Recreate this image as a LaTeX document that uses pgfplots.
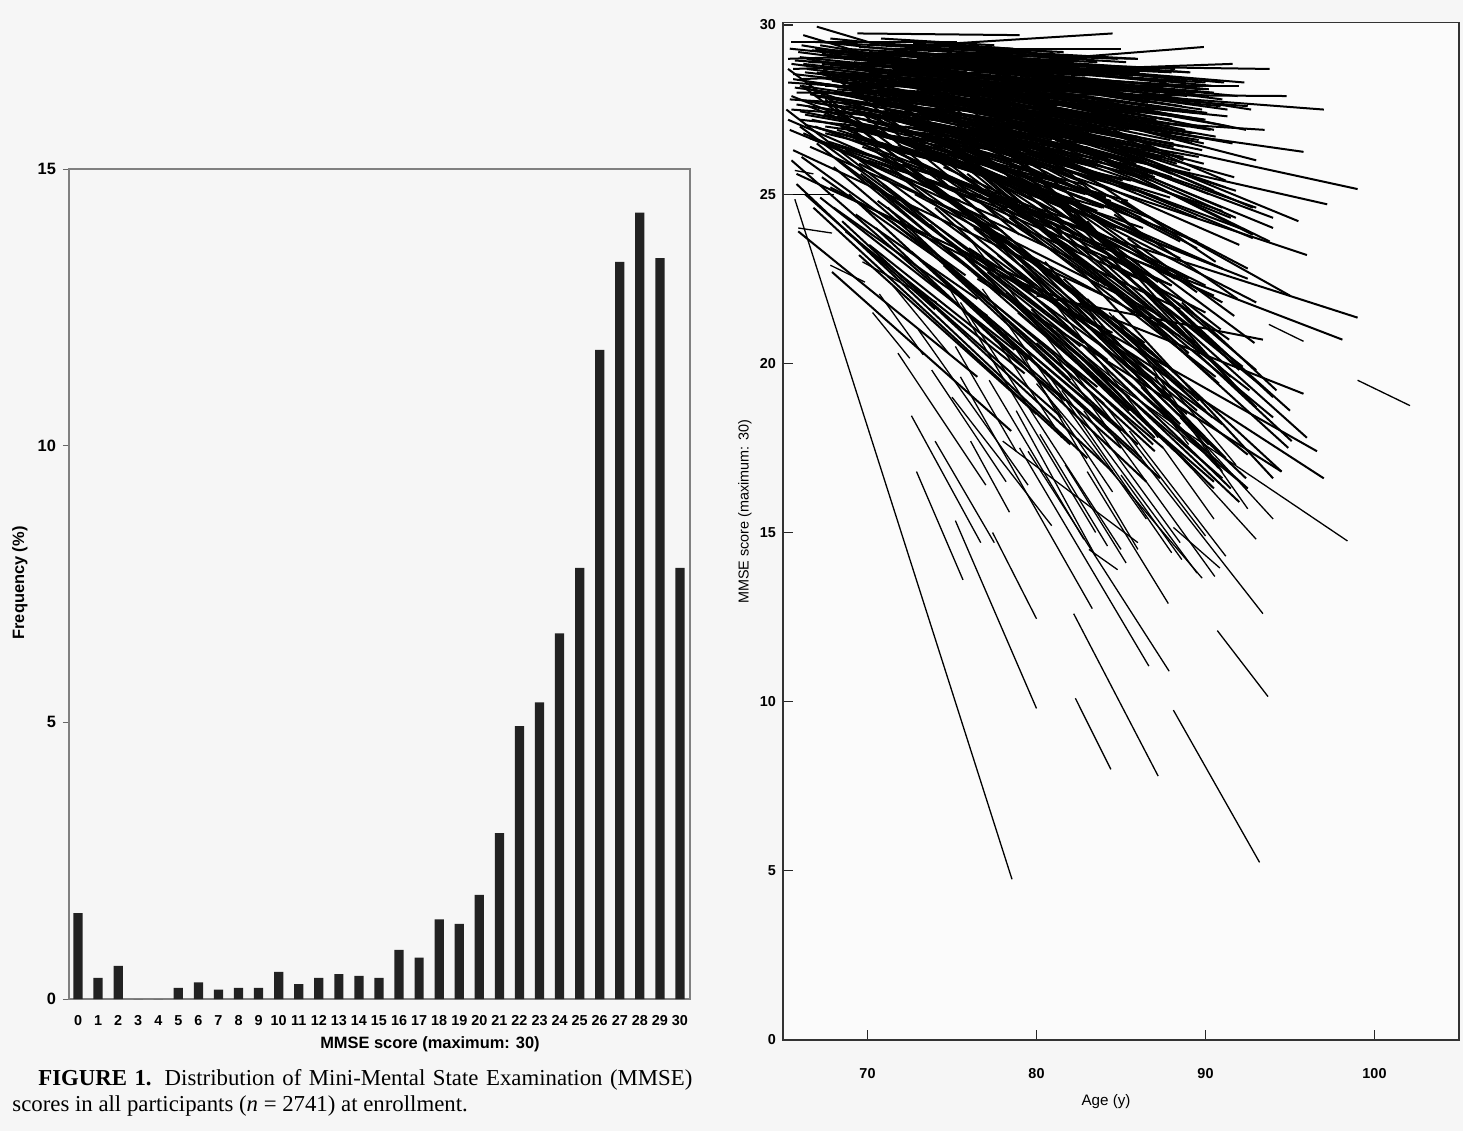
\documentclass[border=0pt]{standalone}
\usepackage{fontspec}
\setmainfont{Liberation Serif}
\setsansfont{Liberation Sans}
\usepackage{pgfplots}
\usepackage{pgfplotstable}
\pgfplotsset{compat=1.18}
\definecolor{bg}{HTML}{F6F6F6}
\definecolor{barc}{HTML}{222222}

\pgfplotstableread{
s f
0 1.55
1 0.38
2 0.60
3 0
4 0
5 0.20
6 0.30
7 0.17
8 0.20
9 0.20
10 0.49
11 0.27
12 0.38
13 0.45
14 0.42
15 0.38
16 0.89
17 0.75
18 1.44
19 1.36
20 1.88
21 3.00
22 4.93
23 5.36
24 6.61
25 7.79
26 11.73
27 13.32
28 14.21
29 13.39
30 7.79
}\freq

% dense trajectories; each row: age1 score1 age2 score2
\pgfplotstableread{
a b c d
65.5 29.5 75.3 29.5
69.4 29.75 79.0 29.7
73.3 29.4 84.5 29.75
76.0 28.8 89.9 29.35
67.0 29.95 70.7 29.4
66.2 29.7 71.5 28.9
65.3 29.0 78.5 29.2
65.6 28.7 83.0 29.0
66.0 28.4 91.6 28.85
66.5 28.9 93.8 28.7
67.5 28.2 92.0 28.2
65.8 28.0 94.8 27.9
68.0 28.6 97.0 27.5
65.4 27.8 93.5 26.9
66.8 28.3 95.8 26.25
68.5 29.2 86.0 29.0
70.0 29.0 88.0 28.6
71.0 29.3 85.0 29.3
72.5 28.9 90.0 28.3
65.9 29.2 77.0 28.5
67.2 29.4 82.0 28.2
66.3 28.6 80.5 27.8
68.8 28.8 84.5 27.9
70.5 28.4 87.5 27.5
69.2 27.9 86.0 27.2
65.5 27.5 82.0 26.9
66.9 27.7 84.0 26.6
71.5 28.1 89.0 27.0
73.0 28.6 86.5 28.0
74.5 29.1 88.5 28.4
67.8 29.6 79.5 29.0
72.0 29.55 81.0 29.2
75.5 28.3 92.5 27.6
76.5 28.7 91.0 27.8
78.0 28.9 89.0 28.6
68.2 28.1 78.5 27.6
69.8 28.7 83.5 28.3
65.7 28.95 73.5 28.7
66.7 29.25 74.8 29.0
70.8 29.6 77.5 29.4
72.8 28.2 81.5 27.9
74.0 27.9 84.0 27.3
77.0 28.2 87.0 27.6
79.0 28.5 90.5 28.0
80.5 28.1 88.5 27.8
65.3 28.3 74.0 28.0
69.0 28.3 76.5 28.0
71.2 27.8 80.0 27.2
73.5 27.5 82.5 26.9
75.0 27.6 86.0 26.7
66.0 27.2 79.0 26.5
67.5 27.0 77.5 26.3
70.2 27.3 83.0 26.1
78.5 27.9 88.0 27.2
81.5 27.8 90.0 27.2
82.5 28.4 89.5 28.2
76.8 29.2 84.8 29.0
74.2 28.5 80.2 28.3
69.5 29.35 75.0 29.2
72.2 27.0 79.5 26.5
70.0 28.3 99.0 25.15
68.0 28.0 97.2 24.7
66.0 28.2 96.0 23.2
70.0 26.0 99.0 21.35
72.0 25.7 98.1 20.7
78.0 22.6 95.8 19.1
80.0 22.0 93.4 20.7
76.0 23.4 97.0 16.6
75.0 23.5 96.6 17.4
76.5 22.5 94.5 16.8
65.5 27.9 90.0 23.0
66.5 27.6 92.5 22.5
65.3 27.2 88.0 22.3
67.0 28.6 91.0 24.5
68.5 28.9 93.0 24.6
69.0 27.5 89.5 23.6
70.5 28.0 92.0 24.0
71.0 27.2 91.0 22.8
72.0 28.4 94.0 24.3
73.0 27.8 92.8 23.7
74.0 28.6 95.5 24.2
66.2 26.8 86.5 22.4
67.5 26.5 88.5 21.6
68.8 26.9 90.5 22.0
70.3 26.6 88.0 22.3
65.6 26.3 84.0 22.0
69.5 25.9 87.0 21.5
71.5 26.3 90.0 21.5
73.5 26.8 93.0 21.8
75.0 27.2 92.0 23.5
76.5 27.6 94.0 24.0
78.0 27.0 91.5 24.3
79.5 27.4 92.8 24.6
80.5 26.8 91.8 24.3
74.5 25.8 89.0 22.5
77.0 25.5 90.0 22.3
65.8 25.6 80.0 22.3
67.8 25.2 84.5 20.9
72.8 25.0 88.5 20.8
78.5 25.2 91.0 21.8
81.0 25.8 92.5 22.8
82.0 26.5 91.0 24.6
83.5 27.0 91.2 25.4
84.0 26.0 92.8 23.8
66.9 27.0 76.5 25.2
68.2 27.3 79.2 25.3
69.9 27.0 82.5 24.4
71.8 26.9 84.7 24.0
73.2 27.2 86.2 24.3
74.8 26.6 87.0 23.6
76.2 26.2 88.5 23.1
77.8 26.5 89.5 23.4
79.2 26.0 88.5 23.6
75.8 28.0 88.0 25.6
77.2 27.9 90.5 25.1
79.8 28.3 89.2 26.5
81.8 27.5 88.7 26.0
70.8 27.6 80.3 25.8
65.4 26.9 75.5 24.8
66.6 26.4 78.0 23.9
72.5 26.0 82.8 23.7
85.0 24.8 95.0 22.0
86.0 25.5 93.8 23.6
65.5 26.0 85.0 17.5
66.0 27.0 88.0 19.0
67.0 26.5 85.5 19.0
65.8 25.3 83.0 17.2
68.0 25.8 87.5 17.5
69.0 26.2 91.0 18.2
70.0 25.4 90.5 16.5
71.0 25.9 92.5 17.3
72.0 24.8 91.0 16.6
73.0 25.6 89.5 18.6
74.0 24.6 92.5 16.3
75.0 25.2 90.0 18.6
66.8 24.6 82.0 17.6
68.5 24.2 84.5 16.8
70.5 24.0 86.5 16.5
67.5 27.8 83.5 21.3
69.2 27.6 86.0 20.5
70.8 28.2 89.0 20.3
72.3 27.5 90.8 19.4
73.8 27.9 93.0 19.8
75.5 26.8 91.5 19.6
77.0 26.9 94.0 19.0
78.5 26.3 92.0 19.8
80.0 25.3 95.0 18.6
81.5 24.6 93.0 18.7
83.0 24.2 92.0 19.2
76.0 24.4 88.5 18.2
77.5 23.8 90.2 17.6
79.0 23.4 91.2 17.2
80.5 23.0 89.7 17.9
82.5 22.8 94.0 16.6
74.5 22.9 86.0 17.6
73.2 23.5 84.0 18.8
71.5 22.8 81.5 18.4
69.5 23.2 80.0 18.5
67.9 22.7 78.5 18.0
65.9 23.9 76.5 19.6
66.3 25.0 74.0 21.6
68.9 25.0 79.5 20.1
71.2 24.6 82.0 19.5
73.7 24.1 85.5 18.6
75.7 23.2 87.0 17.8
78.2 22.1 88.2 17.4
79.7 21.6 90.5 16.3
81.2 21.0 92.0 15.9
82.8 20.5 91.5 16.3
84.5 21.4 94.5 16.8
85.5 22.5 96.0 17.8
86.5 21.5 94.0 18.4
70.0 27.5 79.0 23.8
71.7 28.0 80.8 24.0
73.4 28.3 82.3 24.5
75.2 27.9 84.0 24.1
77.3 27.6 86.5 23.7
66.4 28.1 76.0 24.5
67.4 28.7 77.2 25.0
68.6 27.1 78.0 23.6
69.7 28.5 81.5 23.8
65.3 28.7 74.5 25.3
65.2 27.5 73.0 24.5
74.6 26.3 85.2 22.0
76.7 25.7 87.8 21.2
78.7 24.6 89.0 20.3
80.8 24.2 90.8 19.9
83.8 23.2 93.4 19.3
66.1 29.4 72.3 28.9
66.4 29.0 70.9 28.6
66.8 28.75 76.2 28.2
67.1 28.45 73.8 27.9
67.3 29.15 75.9 28.6
67.6 28.9 80.4 28.1
67.9 28.35 78.8 27.4
68.1 29.45 76.6 29.0
68.3 28.0 75.3 27.2
68.6 28.55 81.2 27.6
68.9 29.05 79.6 28.7
69.1 27.75 77.4 26.8
69.3 28.25 82.6 27.1
69.6 28.85 80.9 28.3
69.9 27.55 78.7 26.4
70.1 29.2 83.8 28.8
70.4 28.65 79.2 28.0
70.6 28.1 84.4 26.9
70.9 27.45 81.7 26.1
71.1 28.9 82.9 28.5
71.4 28.5 80.6 27.7
71.6 27.95 83.1 26.8
71.9 29.4 80.3 29.1
72.1 28.7 85.6 27.9
72.4 27.65 80.9 26.6
72.6 28.35 87.1 27.2
72.9 29.0 83.4 28.6
73.1 27.4 84.6 26.1
73.4 28.8 86.2 28.2
73.6 28.05 82.1 27.2
73.9 29.25 85.3 28.9
74.1 27.7 86.8 26.4
74.4 28.4 83.0 27.9
74.6 27.2 85.9 25.9
74.9 28.95 87.7 28.3
75.1 28.15 84.2 27.4
75.4 27.5 88.3 26.2
75.6 28.6 85.1 28.0
75.9 29.1 83.6 28.9
76.1 27.85 86.9 26.9
76.4 28.35 90.1 27.4
76.6 27.3 87.4 26.0
76.9 28.75 86.0 28.2
77.1 27.95 89.3 26.8
77.4 28.5 84.7 28.0
77.6 27.55 88.7 26.4
77.9 29.0 86.4 28.7
78.1 28.2 91.4 27.0
78.4 27.2 87.6 26.1
78.6 28.65 88.9 27.9
78.9 27.75 86.3 27.0
79.1 28.85 92.3 28.3
79.4 28.05 88.2 27.3
79.6 27.35 89.8 26.3
79.9 28.45 87.3 28.0
80.2 27.6 90.6 26.7
80.6 28.75 91.1 28.3
81.0 28.0 89.4 27.4
81.3 27.1 88.1 26.4
81.7 28.35 92.7 27.5
82.1 27.55 90.3 26.9
82.8 28.05 88.6 27.6
83.2 27.25 91.6 26.5
65.6 28.55 71.8 28.2
65.7 28.15 76.9 27.4
65.9 27.8 73.2 27.1
66.0 27.45 78.6 26.2
66.2 28.85 81.4 28.0
66.3 27.05 75.7 25.9
66.5 28.3 85.2 26.9
66.6 26.65 77.8 25.0
66.8 29.5 78.1 29.2
66.9 27.9 87.3 26.1
67.1 26.95 80.7 25.1
67.2 28.6 88.4 27.3
67.4 27.35 79.1 25.9
67.6 29.05 90.2 28.1
67.7 26.55 82.4 24.2
67.9 27.75 85.0 25.9
68.0 28.2 79.9 27.4
68.2 26.9 81.1 24.9
68.4 27.55 86.6 25.5
68.5 29.3 82.2 28.9
68.7 26.3 78.3 24.6
68.8 27.95 89.6 26.1
69.0 28.7 80.1 28.2
69.2 26.75 83.9 24.6
69.4 27.25 79.5 25.9
69.5 28.4 91.3 27.3
69.7 26.4 80.8 24.3
69.8 29.15 86.7 28.7
70.0 27.8 82.4 26.6
70.2 26.85 85.4 24.8
70.3 28.6 90.9 27.6
70.5 27.35 78.9 26.3
70.7 26.2 83.2 23.9
70.8 29.45 81.6 29.2
71.0 27.95 88.1 26.4
71.2 26.7 80.2 25.1
71.3 28.25 86.1 27.1
71.5 27.2 84.0 25.4
71.7 29.1 79.2 28.8
71.8 26.45 86.3 24.0
72.0 27.6 81.3 26.5
72.2 28.85 89.4 28.0
72.3 26.9 84.1 24.9
72.5 27.95 78.5 27.3
72.7 29.45 78.6 29.3
72.8 26.3 82.7 24.4
73.0 27.15 87.9 24.9
73.2 28.6 80.4 28.1
73.3 26.65 85.4 24.4
73.5 28.15 90.6 26.6
73.7 27.0 80.9 25.9
73.8 29.1 82.5 28.8
74.0 26.45 83.6 24.5
74.2 27.55 88.0 25.7
74.3 28.75 91.9 27.9
74.5 26.85 81.4 25.7
74.7 27.9 84.9 26.8
74.8 29.35 79.7 29.2
75.0 26.6 86.7 24.3
75.2 28.4 89.9 27.2
75.3 27.0 82.3 25.8
75.5 29.0 88.4 28.4
75.7 26.3 84.0 24.6
75.8 27.7 91.7 25.5
76.0 28.9 82.1 28.6
76.3 26.8 87.2 24.9
76.5 27.95 85.5 26.9
76.8 26.5 83.0 25.3
77.0 29.25 85.9 29.0
77.3 27.25 88.0 25.5
77.5 28.4 92.4 26.9
77.8 26.75 85.7 25.2
78.0 27.5 84.4 26.6
78.3 28.8 90.4 28.2
78.5 26.5 89.5 24.3
78.8 27.95 86.1 27.1
79.0 27.1 91.8 25.1
79.3 28.45 85.0 28.0
79.5 26.75 86.8 25.4
79.8 27.7 93.0 26.0
80.1 26.3 88.4 24.6
80.4 28.2 86.6 27.7
80.7 27.0 91.2 25.2
81.1 26.6 87.0 25.5
81.5 27.85 90.5 26.9
82.0 26.85 89.1 25.7
82.4 28.25 87.9 27.9
82.9 26.4 90.2 25.0
83.5 27.6 89.7 27.0
68.3 26.0 80.5 21.5
69.6 25.6 82.8 20.6
70.9 25.3 84.2 20.1
72.1 25.9 86.4 20.6
73.4 25.4 87.8 19.9
74.7 24.9 86.9 20.3
75.9 25.6 89.4 20.6
77.2 24.9 88.1 20.9
78.4 24.3 90.6 19.6
79.6 24.9 91.4 20.7
80.9 23.7 92.6 19.2
82.2 24.4 90.9 21.0
67.2 24.9 78.7 20.4
68.7 23.9 79.3 19.7
70.1 23.5 81.7 18.9
71.4 24.2 83.6 19.3
72.6 23.3 85.0 18.0
73.9 22.7 84.4 18.3
75.1 22.2 86.2 17.2
76.4 21.6 87.3 16.6
77.7 23.2 86.5 19.4
79.1 22.9 88.9 18.5
80.3 21.8 90.3 17.2
81.6 22.5 89.6 18.9
83.0 21.9 90.4 18.4
84.2 23.0 92.2 19.9
85.4 23.7 91.7 21.4
86.7 22.9 92.9 20.6
69.1 26.7 77.6 24.0
70.4 26.3 80.1 23.0
71.6 25.7 79.8 22.8
72.9 26.4 82.4 23.3
74.2 25.6 83.7 22.4
75.4 26.1 85.8 22.7
76.6 25.0 84.1 22.3
77.9 25.7 87.2 22.4
79.3 25.4 86.1 22.9
80.6 25.1 88.2 22.5
81.9 24.8 89.5 22.1
83.1 25.5 90.6 23.0
84.6 24.4 91.9 21.9
66.1 26.1 75.8 22.6
67.3 25.5 74.7 22.9
68.0 24.6 77.1 21.4
69.3 24.4 76.5 21.9
70.6 24.8 79.0 21.7
76.3 24.0 83.2 21.2
77.1 22.7 82.6 20.5
78.9 21.5 85.7 18.6
80.0 20.6 87.0 17.4
81.4 20.2 86.9 17.6
83.5 19.8 89.2 16.9
85.0 20.1 92.4 16.6
86.2 19.3 90.8 16.9
87.4 20.9 94.9 17.5
88.6 21.8 94.2 19.2
89.5 20.3 95.1 17.7
65.4 29.3 79.0 28.6
65.5 28.85 80.2 27.9
65.6 28.4 77.4 27.5
65.8 27.65 79.8 26.6
66.0 29.05 82.6 28.2
66.1 28.2 83.4 26.9
66.3 27.35 81.5 26.0
66.4 28.7 86.8 27.5
66.6 27.95 84.1 26.6
66.7 27.2 80.4 25.8
66.9 29.3 84.2 28.6
67.0 28.05 82.9 26.8
67.2 27.55 85.8 26.0
67.3 28.85 87.6 27.8
67.5 26.8 79.6 25.3
67.6 28.25 84.7 27.1
67.8 27.4 83.6 25.9
68.0 29.15 85.7 28.5
68.1 27.85 86.0 26.4
68.3 28.45 88.3 27.3
68.4 27.0 82.7 25.3
68.6 29.0 81.7 28.6
68.7 27.6 84.3 26.1
68.9 28.15 86.9 27.0
69.0 26.7 80.9 25.0
69.2 28.9 88.1 28.0
69.3 27.4 86.2 25.8
69.5 28.0 83.2 27.0
69.6 26.95 84.6 24.9
69.8 28.55 87.2 27.5
70.0 27.15 85.6 25.4
70.1 28.8 82.8 28.2
70.3 27.7 88.7 26.1
70.5 28.3 85.1 27.4
70.6 26.75 82.9 25.0
70.8 28.95 90.0 28.1
71.0 27.5 87.4 25.8
71.1 28.1 84.6 27.1
71.3 26.95 81.9 25.6
71.5 28.7 88.6 27.8
71.6 27.35 86.6 25.6
71.8 28.3 83.8 27.6
72.0 26.65 84.4 24.8
72.2 29.2 87.3 28.7
72.3 27.8 88.1 26.5
72.5 28.55 85.4 27.9
72.7 27.05 83.5 25.8
72.9 28.05 89.2 26.8
73.0 26.5 81.8 25.1
73.2 29.0 86.1 28.6
73.4 27.55 87.6 26.1
73.6 28.3 84.8 27.6
73.8 26.8 85.9 25.1
74.0 28.85 89.7 28.1
74.2 27.35 84.3 26.1
74.4 28.1 87.9 27.0
74.6 26.6 84.1 24.9
74.8 28.6 86.2 28.0
75.0 27.8 89.6 26.6
75.3 28.3 85.6 27.6
75.5 26.9 85.1 25.4
75.7 28.8 88.7 28.3
76.0 27.45 84.8 26.5
76.2 28.15 87.3 27.4
76.4 26.95 86.0 25.5
76.7 28.5 91.3 27.5
77.0 27.7 87.9 26.6
77.3 28.95 88.2 28.7
77.6 27.0 86.9 25.6
77.9 28.35 89.8 27.5
78.2 27.8 85.3 27.1
78.5 28.55 87.4 28.1
78.8 27.3 89.9 25.9
79.2 28.1 88.6 27.3
79.5 26.9 85.7 25.9
79.9 28.9 89.1 28.6
80.3 27.75 88.8 26.9
80.7 28.45 90.2 27.9
81.2 27.4 89.9 26.5
81.6 26.9 88.3 25.9
}\segs

% sparser, thinner trajectories
\pgfplotstableread{
a b c d
93.75 21.15 95.8 20.65
99.0 19.5 102.1 18.75
84.0 19.6 98.4 14.75
76.0 23.7 93.4 12.6
72.6 18.45 76.7 14.7
72.9 16.8 75.65 13.6
75.2 15.35 80.0 9.8
77.4 15.0 80.0 12.45
82.2 12.6 87.2 7.8
82.3 10.1 84.4 8.0
88.1 9.75 93.2 5.25
90.7 12.1 93.7 10.15
65.7 24.85 78.55 4.75
83.1 14.5 84.8 13.9
79.0 17.5 86.65 11.05
79.5 17.4 87.85 10.9
80.0 19.4 89.8 13.65
81.0 20.3 90.55 13.7
88.1 15.15 90.85 13.95
80.0 21.4 92.5 16.3
78.0 17.7 86.0 14.7
75.0 19.0 80.9 15.2
75.5 19.6 83.3 12.75
74.0 17.7 77.5 14.7
76.1 17.7 78.4 15.6
67.8 22.9 69.85 22.4
69.7 23.0 74.1 21.8
70.7 22.05 73.3 20.25
70.3 21.5 72.5 20.15
71.5 22.3 74.8 20.3
65.6 25.0 68.0 25.0
65.7 25.7 66.8 25.6
65.9 24.0 67.9 23.85
74.5 22.5 83.5 15.0
75.5 21.8 85.0 14.5
76.8 22.2 86.5 15.4
78.0 21.0 84.5 16.2
79.0 20.4 86.0 14.5
80.5 19.8 88.0 14.4
81.5 19.2 89.5 13.8
82.8 18.6 88.5 14.7
84.0 18.8 90.0 14.9
85.5 18.0 91.2 14.3
77.2 19.5 82.8 14.8
78.8 18.6 83.5 14.3
73.0 21.0 79.5 16.4
71.8 20.3 77.0 16.4
73.8 19.8 78.2 16.5
80.2 17.9 84.2 14.6
81.7 17.0 85.3 14.1
83.0 16.8 87.8 12.9
86.0 20.5 91.0 16.8
87.0 19.6 92.5 15.7
88.5 18.4 94.0 15.4
87.5 17.5 90.5 15.4
85.0 16.7 88.6 14.2
89.0 17.0 93.0 14.8
84.3 21.5 91.8 17.0
82.3 22.0 89.0 17.6
77.5 20.8 81.5 17.8
79.8 22.6 87.2 17.8
75.2 20.5 78.8 17.4
}\segd

\newcommand\tkf{\sffamily\bfseries\fontsize{7.2}{8}\selectfont}

\begin{document}
\begin{tikzpicture}
\fill[bg] (0pt,0pt) rectangle (731.5pt,-565.5pt);

% ---------------- left: histogram ----------------
\begin{axis}[
  at={(34.5pt,-499.5pt)}, anchor=south west,
  scale only axis, width=310.5pt, height=415pt,
  xmin=-0.45, xmax=30.5, ymin=0, ymax=15,
  ybar, bar width=0.46,
  xtick={0,...,30}, ytick={0,5,10,15},
  minor xtick={0.5,1.5,...,29.5},
  xtick pos=bottom, ytick pos=left,
  tick align=outside,
  major tick length=3pt, minor tick length=1.5pt,
  xtick style={draw=none},
  minor tick style={black!50, line width=0.4pt},
  ytick style={black!60, line width=0.5pt},
  axis line style={draw=black!50, line width=0.6pt},
  /pgf/number format/assume math mode=true,
  ticklabel style={font=\tkf},
  yticklabel style={font=\sffamily\bfseries\fontsize{8.2}{9}\selectfont},
  xticklabel style={text height=5.5pt, text depth=0pt, yshift=-1pt},
]
\addplot[fill=barc, draw=none] table[x=s, y=f] {\freq};
\end{axis}

\node[rotate=90, font=\sffamily\bfseries\fontsize{8.2}{9}\selectfont] at (10pt,-291.5pt) {Frequency (\%)};
\node[font=\sffamily\bfseries\fontsize{8.2}{9}\selectfont] at (215pt,-522pt) {MMSE score (maximum: 30)};

\node[anchor=north west, inner sep=0pt, text width=340pt, align=justify,
      font=\fontsize{11.4}{13}\selectfont] at (6pt,-534.5pt)
 {\hspace*{13pt}\textbf{FIGURE 1.} Distribution of Mini-Mental State Examination (MMSE)\linebreak
  scores in all participants (\textit{n} = 2741) at enrollment.};

% ---------------- right: trajectories ----------------
\begin{axis}[
  at={(391.5pt,-520pt)}, anchor=south west,
  scale only axis, width=338pt, height=508.7pt,
  xmin=65, xmax=105, ymin=0, ymax=30.07,
  xtick={70,80,90,100}, ytick={0,5,...,30},
  xtick pos=bottom, ytick pos=left,
  tick align=inside, major tick length=5pt,
  tick style={black!85, line width=0.6pt},
  axis line style={draw=black!80, line width=0.75pt},
  axis background/.style={fill=white!60!bg},
  /pgf/number format/assume math mode=true,
  ticklabel style={font=\tkf},
  xticklabel style={yshift=-10.5pt},
]
\addplot[black, line width=1.0pt, no markers,
  quiver={u=\thisrow{c}-\thisrow{a}, v=\thisrow{d}-\thisrow{b}}]
  table[x=a, y=b] {\segs};
\addplot[black, line width=0.65pt, no markers,
  quiver={u=\thisrow{c}-\thisrow{a}, v=\thisrow{d}-\thisrow{b}}]
  table[x=a, y=b] {\segd};
\end{axis}

\node[rotate=90, font=\sffamily\fontsize{7.2}{8}\selectfont] at (372.5pt,-256pt) {MMSE score (maximum: 30)};
\node[font=\sffamily\fontsize{7.6}{8}\selectfont] at (553pt,-551pt) {Age (y)};
\end{tikzpicture}
\end{document}
